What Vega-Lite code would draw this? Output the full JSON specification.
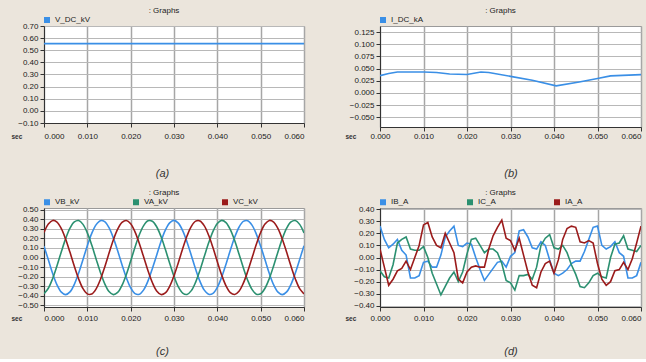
{
  "$schema": "https://vega.github.io/schema/vega-lite/v6.json",
  "background": "#ebe5dc",
  "padding": {"left": 10, "top": 6, "right": 4, "bottom": 2},
  "columns": 2,
  "spacing": {"row": 81, "column": 76},
  "bounds": "flush",
  "resolve": {"scale": {"color": "independent", "x": "independent", "y": "independent"}, "legend": {"color": "independent"}},
  "datasets": {
    "a": [
      {"t": 0.000, "s": "V_DC_kV", "v": 0.555},
      {"t": 0.010, "s": "V_DC_kV", "v": 0.555},
      {"t": 0.020, "s": "V_DC_kV", "v": 0.555},
      {"t": 0.030, "s": "V_DC_kV", "v": 0.555},
      {"t": 0.040, "s": "V_DC_kV", "v": 0.555},
      {"t": 0.050, "s": "V_DC_kV", "v": 0.555},
      {"t": 0.060, "s": "V_DC_kV", "v": 0.555}
    ],
    "b": [
      {"t": 0.000, "s": "I_DC_kA", "v": 0.0356},
      {"t": 0.002, "s": "I_DC_kA", "v": 0.040},
      {"t": 0.004, "s": "I_DC_kA", "v": 0.043},
      {"t": 0.010, "s": "I_DC_kA", "v": 0.043},
      {"t": 0.013, "s": "I_DC_kA", "v": 0.042},
      {"t": 0.016, "s": "I_DC_kA", "v": 0.039},
      {"t": 0.020, "s": "I_DC_kA", "v": 0.038},
      {"t": 0.0232, "s": "I_DC_kA", "v": 0.043},
      {"t": 0.025, "s": "I_DC_kA", "v": 0.042},
      {"t": 0.030, "s": "I_DC_kA", "v": 0.034},
      {"t": 0.035, "s": "I_DC_kA", "v": 0.026},
      {"t": 0.0405, "s": "I_DC_kA", "v": 0.0145},
      {"t": 0.0458, "s": "I_DC_kA", "v": 0.0226},
      {"t": 0.050, "s": "I_DC_kA", "v": 0.0295},
      {"t": 0.053, "s": "I_DC_kA", "v": 0.035},
      {"t": 0.060, "s": "I_DC_kA", "v": 0.0377}
    ],
    "c": [
      {"t": 0.000, "VB_kV": 0.117, "VA_kV": -0.381, "VC_kV": 0.263},
      {"t": 0.001, "VB_kV": -0.024, "VA_kV": -0.323, "VC_kV": 0.351},
      {"t": 0.002, "VB_kV": -0.169, "VA_kV": -0.220, "VC_kV": 0.389},
      {"t": 0.003, "VB_kV": -0.287, "VA_kV": -0.086, "VC_kV": 0.372},
      {"t": 0.004, "VB_kV": -0.364, "VA_kV": 0.060, "VC_kV": 0.303},
      {"t": 0.005, "VB_kV": -0.390, "VA_kV": 0.198, "VC_kV": 0.192},
      {"t": 0.006, "VB_kV": -0.361, "VA_kV": 0.308, "VC_kV": 0.054},
      {"t": 0.007, "VB_kV": -0.282, "VA_kV": 0.374, "VC_kV": -0.092},
      {"t": 0.008, "VB_kV": -0.163, "VA_kV": 0.388, "VC_kV": -0.225},
      {"t": 0.009, "VB_kV": -0.021, "VA_kV": 0.348, "VC_kV": -0.327},
      {"t": 0.010, "VB_kV": 0.124, "VA_kV": 0.258, "VC_kV": -0.382},
      {"t": 0.011, "VB_kV": 0.251, "VA_kV": 0.133, "VC_kV": -0.384},
      {"t": 0.012, "VB_kV": 0.343, "VA_kV": -0.012, "VC_kV": -0.332},
      {"t": 0.013, "VB_kV": 0.387, "VA_kV": -0.154, "VC_kV": -0.233},
      {"t": 0.014, "VB_kV": 0.377, "VA_kV": -0.275, "VC_kV": -0.102},
      {"t": 0.015, "VB_kV": 0.314, "VA_kV": -0.358, "VC_kV": 0.044},
      {"t": 0.016, "VB_kV": 0.206, "VA_kV": -0.390, "VC_kV": 0.184},
      {"t": 0.017, "VB_kV": 0.070, "VA_kV": -0.367, "VC_kV": 0.297},
      {"t": 0.018, "VB_kV": -0.076, "VA_kV": -0.293, "VC_kV": 0.369},
      {"t": 0.019, "VB_kV": -0.212, "VA_kV": -0.178, "VC_kV": 0.389},
      {"t": 0.020, "VB_kV": -0.318, "VA_kV": -0.037, "VC_kV": 0.355},
      {"t": 0.021, "VB_kV": -0.379, "VA_kV": 0.108, "VC_kV": 0.270},
      {"t": 0.022, "VB_kV": -0.386, "VA_kV": 0.239, "VC_kV": 0.148},
      {"t": 0.023, "VB_kV": -0.340, "VA_kV": 0.335, "VC_kV": 0.005},
      {"t": 0.024, "VB_kV": -0.246, "VA_kV": 0.385, "VC_kV": -0.139},
      {"t": 0.025, "VB_kV": -0.117, "VA_kV": 0.381, "VC_kV": -0.263},
      {"t": 0.026, "VB_kV": 0.024, "VA_kV": 0.323, "VC_kV": -0.351},
      {"t": 0.027, "VB_kV": 0.169, "VA_kV": 0.220, "VC_kV": -0.389},
      {"t": 0.028, "VB_kV": 0.287, "VA_kV": 0.086, "VC_kV": -0.372},
      {"t": 0.029, "VB_kV": 0.364, "VA_kV": -0.060, "VC_kV": -0.303},
      {"t": 0.030, "VB_kV": 0.390, "VA_kV": -0.198, "VC_kV": -0.192},
      {"t": 0.031, "VB_kV": 0.361, "VA_kV": -0.308, "VC_kV": -0.054},
      {"t": 0.032, "VB_kV": 0.282, "VA_kV": -0.374, "VC_kV": 0.092},
      {"t": 0.033, "VB_kV": 0.163, "VA_kV": -0.388, "VC_kV": 0.225},
      {"t": 0.034, "VB_kV": 0.021, "VA_kV": -0.348, "VC_kV": 0.327},
      {"t": 0.035, "VB_kV": -0.124, "VA_kV": -0.258, "VC_kV": 0.382},
      {"t": 0.036, "VB_kV": -0.251, "VA_kV": -0.133, "VC_kV": 0.384},
      {"t": 0.037, "VB_kV": -0.343, "VA_kV": 0.012, "VC_kV": 0.332},
      {"t": 0.038, "VB_kV": -0.387, "VA_kV": 0.154, "VC_kV": 0.233},
      {"t": 0.039, "VB_kV": -0.377, "VA_kV": 0.275, "VC_kV": 0.102},
      {"t": 0.040, "VB_kV": -0.314, "VA_kV": 0.358, "VC_kV": -0.044},
      {"t": 0.041, "VB_kV": -0.206, "VA_kV": 0.390, "VC_kV": -0.184},
      {"t": 0.042, "VB_kV": -0.070, "VA_kV": 0.367, "VC_kV": -0.297},
      {"t": 0.043, "VB_kV": 0.076, "VA_kV": 0.293, "VC_kV": -0.369},
      {"t": 0.044, "VB_kV": 0.212, "VA_kV": 0.178, "VC_kV": -0.389},
      {"t": 0.045, "VB_kV": 0.318, "VA_kV": 0.037, "VC_kV": -0.355},
      {"t": 0.046, "VB_kV": 0.379, "VA_kV": -0.108, "VC_kV": -0.270},
      {"t": 0.047, "VB_kV": 0.386, "VA_kV": -0.239, "VC_kV": -0.148},
      {"t": 0.048, "VB_kV": 0.340, "VA_kV": -0.335, "VC_kV": -0.005},
      {"t": 0.049, "VB_kV": 0.246, "VA_kV": -0.385, "VC_kV": 0.139},
      {"t": 0.050, "VB_kV": 0.117, "VA_kV": -0.381, "VC_kV": 0.263},
      {"t": 0.051, "VB_kV": -0.024, "VA_kV": -0.323, "VC_kV": 0.351},
      {"t": 0.052, "VB_kV": -0.169, "VA_kV": -0.220, "VC_kV": 0.389},
      {"t": 0.053, "VB_kV": -0.287, "VA_kV": -0.086, "VC_kV": 0.372},
      {"t": 0.054, "VB_kV": -0.364, "VA_kV": 0.060, "VC_kV": 0.303},
      {"t": 0.055, "VB_kV": -0.390, "VA_kV": 0.198, "VC_kV": 0.192},
      {"t": 0.056, "VB_kV": -0.361, "VA_kV": 0.308, "VC_kV": 0.054},
      {"t": 0.057, "VB_kV": -0.282, "VA_kV": 0.374, "VC_kV": -0.092},
      {"t": 0.058, "VB_kV": -0.163, "VA_kV": 0.388, "VC_kV": -0.225},
      {"t": 0.059, "VB_kV": -0.021, "VA_kV": 0.348, "VC_kV": -0.327},
      {"t": 0.060, "VB_kV": 0.124, "VA_kV": 0.258, "VC_kV": -0.382}
    ],
    "d": [
      {"t": 0.000, "IB_A": 0.26, "IC_A": -0.11, "IA_A": 0.07},
      {"t": 0.001, "IB_A": 0.15, "IC_A": -0.16, "IA_A": -0.08},
      {"t": 0.002, "IB_A": 0.08, "IC_A": -0.17, "IA_A": -0.23},
      {"t": 0.003, "IB_A": 0.11, "IC_A": -0.06, "IA_A": -0.18},
      {"t": 0.004, "IB_A": 0.15, "IC_A": 0.12, "IA_A": -0.11},
      {"t": 0.005, "IB_A": 0.06, "IC_A": 0.15, "IA_A": -0.09},
      {"t": 0.006, "IB_A": 0.02, "IC_A": 0.17, "IA_A": -0.03},
      {"t": 0.007, "IB_A": -0.17, "IC_A": 0.07, "IA_A": -0.10},
      {"t": 0.008, "IB_A": -0.17, "IC_A": 0.06, "IA_A": 0.00},
      {"t": 0.009, "IB_A": -0.15, "IC_A": 0.06, "IA_A": 0.10},
      {"t": 0.010, "IB_A": -0.04, "IC_A": 0.09, "IA_A": 0.27},
      {"t": 0.011, "IB_A": -0.03, "IC_A": 0.00, "IA_A": 0.29},
      {"t": 0.012, "IB_A": -0.08, "IC_A": -0.13, "IA_A": 0.17},
      {"t": 0.013, "IB_A": -0.08, "IC_A": -0.22, "IA_A": 0.10},
      {"t": 0.014, "IB_A": 0.02, "IC_A": -0.31, "IA_A": 0.08},
      {"t": 0.015, "IB_A": 0.17, "IC_A": -0.24, "IA_A": 0.20},
      {"t": 0.016, "IB_A": 0.22, "IC_A": -0.17, "IA_A": 0.12},
      {"t": 0.017, "IB_A": 0.26, "IC_A": -0.12, "IA_A": 0.04},
      {"t": 0.018, "IB_A": 0.10, "IC_A": -0.20, "IA_A": -0.18},
      {"t": 0.019, "IB_A": 0.09, "IC_A": -0.12, "IA_A": -0.21},
      {"t": 0.020, "IB_A": 0.12, "IC_A": 0.03, "IA_A": -0.12},
      {"t": 0.021, "IB_A": 0.11, "IC_A": 0.15, "IA_A": -0.08},
      {"t": 0.022, "IB_A": 0.00, "IC_A": 0.16, "IA_A": -0.07},
      {"t": 0.023, "IB_A": -0.10, "IC_A": 0.10, "IA_A": -0.08},
      {"t": 0.024, "IB_A": -0.19, "IC_A": 0.04, "IA_A": -0.08},
      {"t": 0.025, "IB_A": -0.14, "IC_A": 0.07, "IA_A": 0.07},
      {"t": 0.026, "IB_A": -0.09, "IC_A": 0.07, "IA_A": 0.18},
      {"t": 0.027, "IB_A": -0.04, "IC_A": 0.04, "IA_A": 0.25},
      {"t": 0.028, "IB_A": -0.03, "IC_A": -0.05, "IA_A": 0.31},
      {"t": 0.029, "IB_A": -0.08, "IC_A": -0.19, "IA_A": 0.16},
      {"t": 0.030, "IB_A": 0.01, "IC_A": -0.21, "IA_A": 0.14},
      {"t": 0.031, "IB_A": 0.04, "IC_A": -0.27, "IA_A": 0.06},
      {"t": 0.032, "IB_A": 0.22, "IC_A": -0.15, "IA_A": 0.16},
      {"t": 0.033, "IB_A": 0.23, "IC_A": -0.15, "IA_A": 0.02},
      {"t": 0.034, "IB_A": 0.17, "IC_A": -0.14, "IA_A": -0.12},
      {"t": 0.035, "IB_A": 0.08, "IC_A": -0.18, "IA_A": -0.23},
      {"t": 0.036, "IB_A": 0.07, "IC_A": -0.08, "IA_A": -0.25},
      {"t": 0.037, "IB_A": 0.13, "IC_A": 0.10, "IA_A": -0.12},
      {"t": 0.038, "IB_A": 0.10, "IC_A": 0.16, "IA_A": -0.05},
      {"t": 0.039, "IB_A": -0.02, "IC_A": 0.19, "IA_A": -0.03},
      {"t": 0.040, "IB_A": -0.13, "IC_A": 0.08, "IA_A": -0.13},
      {"t": 0.041, "IB_A": -0.15, "IC_A": 0.07, "IA_A": -0.02},
      {"t": 0.042, "IB_A": -0.13, "IC_A": 0.10, "IA_A": 0.15},
      {"t": 0.043, "IB_A": -0.10, "IC_A": 0.04, "IA_A": 0.24},
      {"t": 0.044, "IB_A": -0.05, "IC_A": -0.06, "IA_A": 0.26},
      {"t": 0.045, "IB_A": -0.03, "IC_A": -0.14, "IA_A": 0.25},
      {"t": 0.046, "IB_A": -0.03, "IC_A": -0.24, "IA_A": 0.13},
      {"t": 0.047, "IB_A": 0.05, "IC_A": -0.25, "IA_A": 0.12},
      {"t": 0.048, "IB_A": 0.15, "IC_A": -0.21, "IA_A": 0.14},
      {"t": 0.049, "IB_A": 0.25, "IC_A": -0.15, "IA_A": 0.12},
      {"t": 0.050, "IB_A": 0.26, "IC_A": -0.13, "IA_A": -0.05},
      {"t": 0.051, "IB_A": 0.10, "IC_A": -0.16, "IA_A": -0.18},
      {"t": 0.052, "IB_A": 0.07, "IC_A": -0.17, "IA_A": -0.23},
      {"t": 0.053, "IB_A": 0.09, "IC_A": 0.00, "IA_A": -0.20},
      {"t": 0.054, "IB_A": 0.13, "IC_A": 0.11, "IA_A": -0.11},
      {"t": 0.055, "IB_A": 0.04, "IC_A": 0.12, "IA_A": -0.10},
      {"t": 0.056, "IB_A": 0.01, "IC_A": 0.18, "IA_A": -0.04},
      {"t": 0.057, "IB_A": -0.17, "IC_A": 0.07, "IA_A": -0.10},
      {"t": 0.058, "IB_A": -0.17, "IC_A": 0.06, "IA_A": -0.01},
      {"t": 0.059, "IB_A": -0.15, "IC_A": 0.05, "IA_A": 0.12},
      {"t": 0.060, "IB_A": -0.04, "IC_A": 0.10, "IA_A": 0.26}
    ]
  },
  "concat": [
    {
      "width": 260, "height": 97,
      "title": {"text": ": Graphs"},
      "data": {"name": "a"},
      "mark": {"type": "line", "strokeWidth": 1.8, "clip": true},
      "encoding": {
        "x": {"field": "t", "type": "quantitative", "scale": {"domain": [0, 0.06], "nice": false, "zero": false},
          "axis": {"values": [0, 0.01, 0.02, 0.03, 0.04, 0.05, 0.06], "format": ".3f", "title": "(a)", "titleX": 118, "labelPadding": 5, "titlePadding": 27}},
        "y": {"field": "v", "type": "quantitative", "scale": {"domain": [-0.1, 0.7], "nice": false, "zero": false},
          "axis": {"values": [-0.1, 0, 0.1, 0.2, 0.3, 0.4, 0.5, 0.6, 0.7], "format": ".2f", "title": "sec"}},
        "color": {"field": "s", "type": "nominal", "scale": {"domain": ["V_DC_kV"], "range": ["#3a8fe6"]}, "legend": {"title": null}}
      }
    },
    {
      "width": 261, "height": 101,
      "title": {"text": ": Graphs"},
      "data": {"name": "b"},
      "mark": {"type": "line", "strokeWidth": 1.6, "clip": true},
      "encoding": {
        "x": {"field": "t", "type": "quantitative", "scale": {"domain": [0, 0.06], "nice": false, "zero": false},
          "axis": {"values": [0, 0.01, 0.02, 0.03, 0.04, 0.05, 0.06], "format": ".3f", "title": "(b)", "labelPadding": 1, "titlePadding": 27,
            "labelAlign": {"condition": {"test": "datum.value > 0.055", "value": "right"}, "value": "center"}}},
        "y": {"field": "v", "type": "quantitative", "scale": {"domain": [-0.07, 0.1375], "nice": false, "zero": false},
          "axis": {"values": [-0.05, -0.025, 0, 0.025, 0.05, 0.075, 0.1, 0.125], "format": ".3f", "title": "sec", "titleX": -35}},
        "color": {"field": "s", "type": "nominal", "scale": {"domain": ["I_DC_kA"], "range": ["#3a8fe6"]}, "legend": {"title": null}}
      }
    },
    {
      "width": 260, "height": 99,
      "title": {"text": ": Graphs"},
      "data": {"name": "c"},
      "transform": [{"fold": ["VB_kV", "VA_kV", "VC_kV"], "as": ["s", "v"]}],
      "mark": {"type": "line", "strokeWidth": 1.6, "interpolate": "catmull-rom", "clip": true},
      "encoding": {
        "x": {"field": "t", "type": "quantitative", "scale": {"domain": [0, 0.06], "nice": false, "zero": false},
          "axis": {"values": [0, 0.01, 0.02, 0.03, 0.04, 0.05, 0.06], "format": ".3f", "title": "(c)", "titleX": 118, "labelPadding": 3, "titlePadding": 23}},
        "y": {"field": "v", "type": "quantitative", "scale": {"domain": [-0.52, 0.52], "nice": false, "zero": false},
          "axis": {"values": [-0.5, -0.4, -0.3, -0.2, -0.1, 0, 0.1, 0.2, 0.3, 0.4, 0.5], "format": ".2f", "title": "sec"}},
        "color": {"field": "s", "type": "nominal", "sort": ["VB_kV", "VA_kV", "VC_kV"], "scale": {"domain": ["VB_kV", "VA_kV", "VC_kV"], "range": ["#3a8fe6", "#2b9070", "#9b1b1b"]},
          "legend": {"title": null, "columns": 3, "columnPadding": 48, "gridAlign": "all"}}
      }
    },
    {
      "width": 261, "height": 99,
      "title": {"text": ": Graphs"},
      "data": {"name": "d"},
      "transform": [{"fold": ["IB_A", "IC_A", "IA_A"], "as": ["s", "v"]}],
      "mark": {"type": "line", "strokeWidth": 1.6, "clip": true},
      "encoding": {
        "x": {"field": "t", "type": "quantitative", "scale": {"domain": [0, 0.06], "nice": false, "zero": false},
          "axis": {"values": [0, 0.01, 0.02, 0.03, 0.04, 0.05, 0.06], "format": ".3f", "title": "(d)", "labelPadding": 3, "titlePadding": 23,
            "labelAlign": {"condition": {"test": "datum.value > 0.055", "value": "right"}, "value": "center"}}},
        "y": {"field": "v", "type": "quantitative", "scale": {"domain": [-0.41, 0.41], "nice": false, "zero": false},
          "axis": {"values": [-0.4, -0.3, -0.2, -0.1, 0, 0.1, 0.2, 0.3, 0.4], "format": ".2f", "title": "sec", "titleX": -35}},
        "color": {"field": "s", "type": "nominal", "sort": ["IB_A", "IC_A", "IA_A"], "scale": {"domain": ["IB_A", "IC_A", "IA_A"], "range": ["#3a8fe6", "#2b9070", "#9b1b1b"]},
          "legend": {"title": null, "columns": 3, "columnPadding": 53, "gridAlign": "all"}}
      }
    }
  ],
  "config": {
    "font": "Liberation Sans",
    "view": {"fill": "white", "stroke": "#9a9a9a", "strokeWidth": 1},
    "axis": {"labelFontSize": 8, "labelColor": "#1a1a1a", "tickColor": "#333333", "tickSize": 4, "domainColor": "#333333", "grid": true},
    "axisX": {"gridColor": "#a6a6a6", "gridWidth": 1.5, "titleFontStyle": "italic", "titleFontSize": 11, "titleFontWeight": "normal", "titleColor": "#333333"},
    "axisY": {"gridColor": "#b8b8b8", "gridWidth": 1, "labelPadding": 2, "titleAngle": 0, "titleAlign": "left", "titleBaseline": "middle", "titleFontSize": 6.5, "titleFontWeight": "bold", "titleColor": "#333333", "titleX": -33, "titleY": 110},
    "legend": {"orient": "none", "legendX": -1, "legendY": -10, "direction": "horizontal", "symbolType": "square", "symbolSize": 9, "symbolStrokeWidth": 3, "symbolOpacity": 1, "labelOffset": 4, "labelFontSize": 8, "labelColor": "#222222", "padding": 0},
    "title": {"fontSize": 8, "fontWeight": "normal", "color": "#222222", "anchor": "middle", "offset": 1, "dx": -10}
  }
}
